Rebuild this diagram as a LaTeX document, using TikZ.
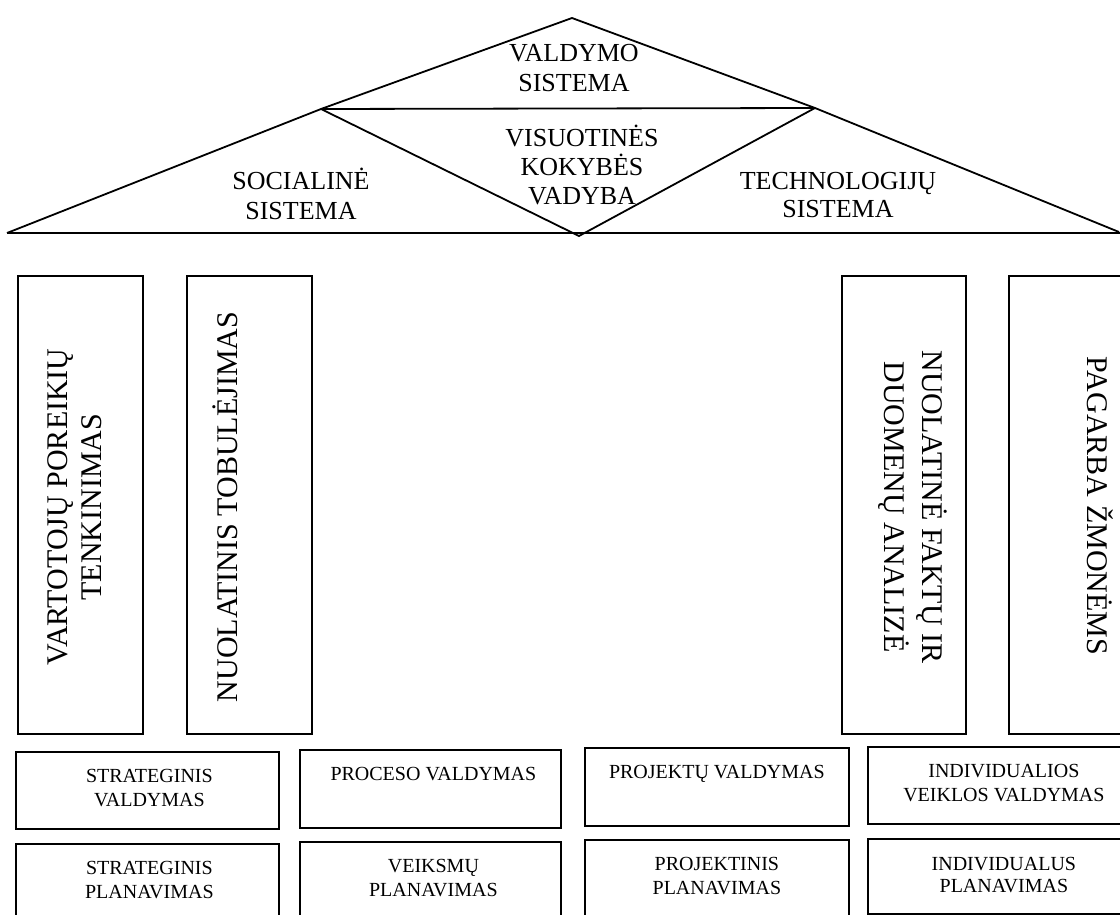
\documentclass[tikz,border=0pt]{standalone}
\usepackage{fontspec}
\setmainfont{Liberation Serif}
\usetikzlibrary{calc}
\newcommand{\mlines}[3]{\parbox[t]{9cm}{\centering\fontsize{#1}{#2}\selectfont #3}}
\begin{document}
\begin{tikzpicture}[x=0.5pt,y=-0.5pt,line width=0.9pt,
  box/.style={draw,line width=0.9pt,anchor=north west,inner sep=0pt},
  txt/.style={anchor=base,inner sep=0pt}]
\useasboundingbox (0,0) rectangle (1120,915);
\clip (0,0) rectangle (1120,915);
% roof
\coordinate (L) at (7,233);
\coordinate (A) at (572,18);
\coordinate (R) at (1119,232);
\coordinate (E) at (1122,233);
\coordinate (IL) at (321,109);
\coordinate (IR) at (815,108);
\coordinate (IB) at (579,236);
\draw (L) -- (IL) -- (A) -- (IR) -- (R);
\draw (L) -- (E);
\draw (IL) -- (IR);
\draw (IL) -- (IB) -- (IR);
\node[txt] (valdymo) at (574,62) {\mlines{13pt}{15pt}{VALDYMO\\SISTEMA}};
\node[txt] (vkv) at (582,147) {\mlines{13pt}{14.5pt}{VISUOTINĖS\\KOKYBĖS\\VADYBA}};
\node[txt] (soc) at (301,190) {\mlines{13pt}{15pt}{SOCIALINĖ\\SISTEMA}};
\node[txt] (tech) at (838,190) {\mlines{13pt}{14pt}{TECHNOLOGIJŲ\\SISTEMA}};
% pillars
\node[box,minimum width=62.5pt,minimum height=229pt] (p1) at (17,275) {};
\node[box,minimum width=62.5pt,minimum height=229pt] (p2) at (186,275) {};
\node[box,minimum width=62pt,minimum height=229pt] (p3) at (841,275) {};
\node[box,minimum width=62.5pt,minimum height=229pt] (p4) at (1008,275) {};
\node[txt,rotate=90] (t1) at (68,507) {\mlines{15pt}{16.7pt}{VARTOTOJŲ POREIKIŲ\\TENKINIMAS}};
\node[txt,rotate=90] (t2) at (237,507) {\mlines{15pt}{16.7pt}{NUOLATINIS TOBULĖJIMAS}};
\node[txt,rotate=-90] (t3) at (922,507) {\mlines{15pt}{19pt}{NUOLATINĖ FAKTŲ IR\\DUOMENŲ ANALIZĖ}};
\node[txt,rotate=-90] (t4) at (1087,506) {\mlines{15pt}{16.7pt}{PAGARBA ŽMONĖMS}};
% foundation row 1
\node[box,minimum width=131.5pt,minimum height=38.5pt] (b1) at (15,751) {};
\node[box,minimum width=130.5pt,minimum height=39pt] (b2) at (299,749) {};
\node[box,minimum width=132pt,minimum height=39pt] (b3) at (584,747) {};
\node[box,minimum width=132pt,minimum height=38.5pt] (b4) at (867,746) {};
% foundation row 2
\node[box,minimum width=131.5pt,minimum height=38.5pt] (b5) at (15,843) {};
\node[box,minimum width=130.5pt,minimum height=38.5pt] (b6) at (299,841) {};
\node[box,minimum width=132pt,minimum height=38.5pt] (b7) at (584,839) {};
\node[box,minimum width=132pt,minimum height=37.5pt] (b8) at (867,838) {};
\node[txt] (s1) at ($(b1.north)+(2,31)$) {\mlines{10pt}{12pt}{STRATEGINIS\\VALDYMAS}};
\node[txt] (s2) at ($(b2.north)+(3,31)$) {\mlines{10pt}{12pt}{PROCESO VALDYMAS}};
\node[txt] (s3) at ($(b3.north)+(0,31)$) {\mlines{10pt}{12pt}{PROJEKTŲ VALDYMAS}};
\node[txt] (s4) at ($(b4.north)+(4,31)$) {\mlines{10pt}{12pt}{INDIVIDUALIOS\\VEIKLOS VALDYMAS}};
\node[txt] (s5) at ($(b5.north)+(2,31)$) {\mlines{10pt}{12pt}{STRATEGINIS\\PLANAVIMAS}};
\node[txt] (s6) at ($(b6.north)+(3,31)$) {\mlines{10pt}{12pt}{VEIKSMŲ\\PLANAVIMAS}};
\node[txt] (s7) at ($(b7.north)+(0,31)$) {\mlines{10pt}{12pt}{PROJEKTINIS\\PLANAVIMAS}};
\node[txt] (s8) at ($(b8.north)+(4,32)$) {\mlines{10pt}{11pt}{INDIVIDUALUS\\PLANAVIMAS}};
\end{tikzpicture}
\end{document}
